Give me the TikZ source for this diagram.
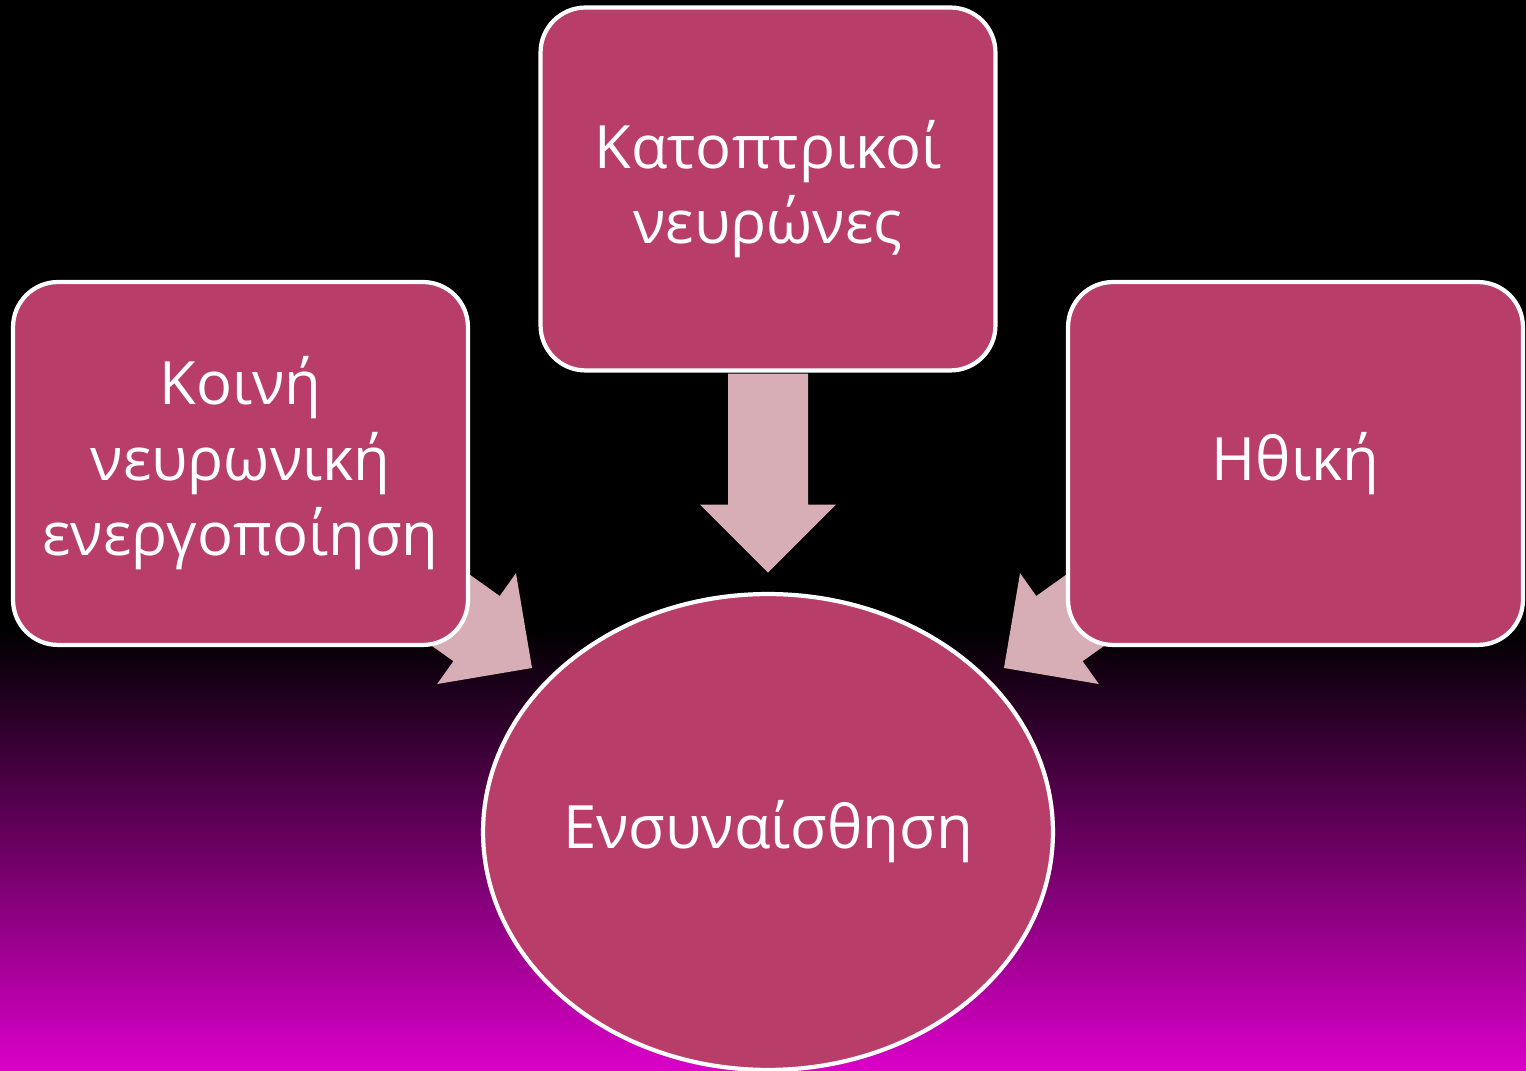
\documentclass[tikz,border=0pt]{standalone}
\usepackage{fontspec}
\setmainfont{Open Sans}
\usetikzlibrary{shapes.geometric,backgrounds,calc}
\definecolor{boxfill}{HTML}{B83D69}
\definecolor{arrowfill}{HTML}{D7AEB6}
\definecolor{magbottom}{HTML}{DA00C8}
\tikzset{
  box/.style={draw=white, line width=2.4pt, fill=boxfill, rounded corners=0.9cm,
    minimum width=9.1cm, minimum height=7.26cm, inner sep=0pt, text=white,
    align=center, font=\fontsize{34}{43}\selectfont},
  oval/.style={ellipse, draw=white, line width=2.4pt, fill=boxfill,
    minimum width=11.4cm, minimum height=9.52cm, inner sep=-2cm, text=white,
    align=center, font=\fontsize{34}{43}\selectfont},
  blockarrow/.style={fill=arrowfill}
}
\newcommand{\myblockarrow}[2]{%
  \begin{scope}[shift={(#1)},rotate=#2]
    \fill[blockarrow] (0,0) -- (-68,68) -- (-68,40) -- (-199,40) -- (-199,-40) -- (-68,-40) -- (-68,-68) -- cycle;
  \end{scope}}
\begin{document}
\begin{tikzpicture}[x=0.02cm,y=0.02cm]
\useasboundingbox (0,0) rectangle (1526,1071);
\node[box] (left) at (240.5,607.5) {Κοινή\\νευρωνική\\ενεργοποίηση};
\node[box] (top) at (768,882) {Κατοπτρικοί\\νευρώνες};
\node[box] (right) at (1295.5,607.5) {Ηθική};
\node[oval] (emp) at (768,239) {Ενσυναίσθηση};
\coordinate (tipC) at ($(top.south)+(0,-200)$);
\coordinate (tipL) at (532,403);
\coordinate (tipR) at (1004,403);
\begin{scope}[on background layer]
  \fill[black] (0,0) rectangle (1526,1071);
  \shade[top color=black, bottom color=magbottom] (0,0) rectangle (1526,441);
  \myblockarrow{tipC}{-90}
  \myblockarrow{tipL}{-35.4}
  \myblockarrow{tipR}{-144.6}
\end{scope}
\end{tikzpicture}
\end{document}
